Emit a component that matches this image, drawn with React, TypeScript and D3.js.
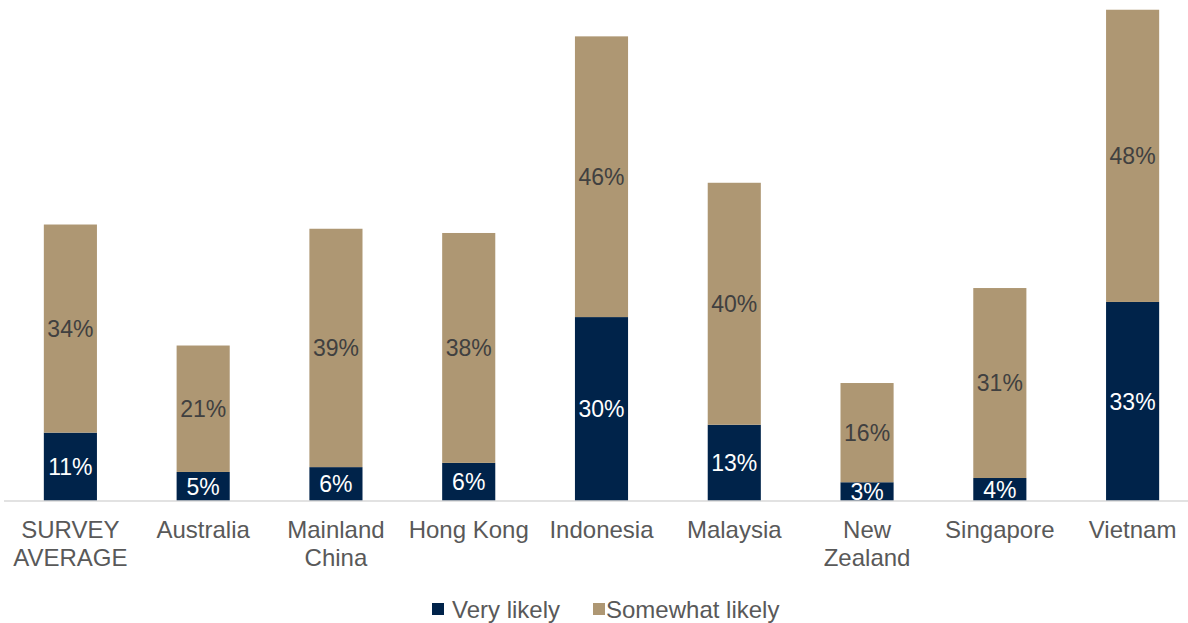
import React from "react";
import * as d3 from "d3";

const categories: string[][] = [
  ["SURVEY", "AVERAGE"],
  ["Australia"],
  ["Mainland", "China"],
  ["Hong Kong"],
  ["Indonesia"],
  ["Malaysia"],
  ["New", "Zealand"],
  ["Singapore"],
  ["Vietnam"],
];
const veryLikely = [11.3, 4.8, 5.6, 6.3, 30.4, 12.6, 3.1, 3.8, 32.9];
const somewhatLikely = [34.4, 20.9, 39.4, 38.0, 46.4, 40.0, 16.4, 31.4, 48.3];
const seriesNames = ["Very likely", "Somewhat likely"];
const seriesColors = ["#00234A", "#AE9773"];

const W = 1188;
const H = 623;
const FONT = "'Liberation Sans', Arial, sans-serif";

export default function App() {
  const idx = categories.map((_, i) => String(i));
  const x = d3.scaleBand<string>().domain(idx).range([4, 1199]).paddingInner(0.6).paddingOuter(0.3);
  const y = d3.scaleLinear().domain([0, 90]).range([501, 501 - 90 * 6.05]);
  const bw = x.bandwidth();

  const stackData = categories.map((_, i) => ({ vl: veryLikely[i], sl: somewhatLikely[i] }));
  const stack = d3.stack<{ vl: number; sl: number }>().keys(["vl", "sl"]);
  const layers = stack(stackData);

  return (
    <svg width={W} height={H} style={{ position: "absolute", left: 0, top: 0, background: "#fff" }} fontFamily={FONT}>
      {layers.map((layer, li) => (
        <g key={li}>
          {layer.map((d, i) => (
            <rect
              key={i}
              x={x(String(i))!}
              y={y(d[1])}
              width={bw}
              height={y(d[0]) - y(d[1])}
              fill={seriesColors[li]}
            />
          ))}
        </g>
      ))}
      {layers.map((layer, li) => (
        <g key={"l" + li}>
          {layer.map((d, i) => (
            <text
              key={i}
              x={x(String(i))! + bw / 2}
              y={(y(d[0]) + y(d[1])) / 2 + 8.3}
              textAnchor="middle"
              fontSize={23}
              fill={li === 0 ? "#ffffff" : "#404040"}
            >
              {Math.round(d[1] - d[0])}%
            </text>
          ))}
        </g>
      ))}
      <line x1={4} x2={W} y1={501} y2={501} stroke="#D9D9D9" strokeWidth={1.5} />
      {categories.map((lines, i) => (
        <text key={i} textAnchor="middle" fontSize={24} fill="#595959">
          {lines.map((t, j) => (
            <tspan key={j} x={x(String(i))! + bw / 2} y={538 + j * 28}>
              {t}
            </tspan>
          ))}
        </text>
      ))}
      <g>
        <rect x={432} y={603} width={12} height={12} fill={seriesColors[0]} />
        <text x={452} y={618} fontSize={24} fill="#595959">{seriesNames[0]}</text>
        <rect x={593} y={603} width={12} height={12} fill={seriesColors[1]} />
        <text x={606} y={618} fontSize={24} fill="#595959">{seriesNames[1]}</text>
      </g>
    </svg>
  );
}
